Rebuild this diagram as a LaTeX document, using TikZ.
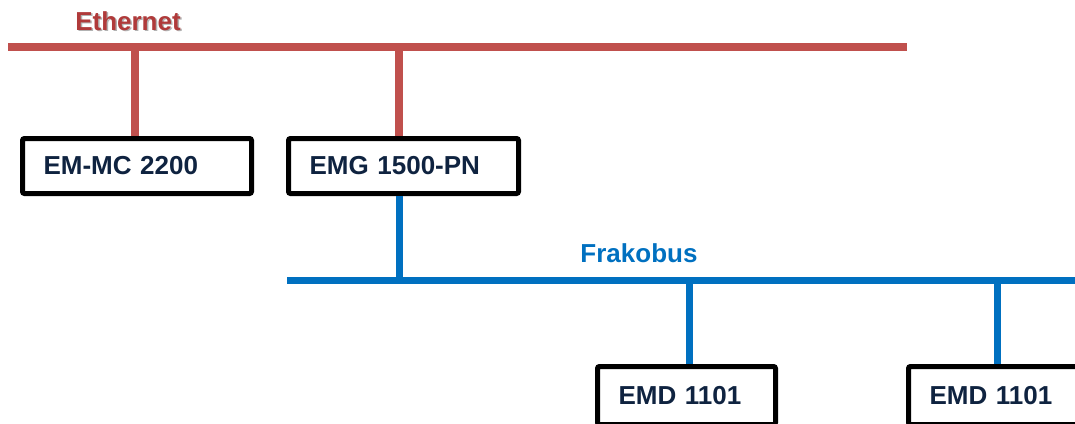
\documentclass[tikz,border=0pt]{standalone}
\usepackage{fontspec}
\setmainfont{Liberation Sans}
\definecolor{ethred}{HTML}{C0504D}
\definecolor{ethtext}{HTML}{B03A3A}
\definecolor{frakblue}{HTML}{0070C0}
\definecolor{navy}{HTML}{0F2340}
\begin{document}
\begin{tikzpicture}[x=1pt,y=-1pt,
  devbox/.style={draw=black, line width=5pt, rounded corners=2pt, anchor=north west,
    align=left, font=\fontsize{26}{30}\selectfont\bfseries, text=navy, inner ysep=0pt, fill=white},
  ethline/.style={draw=ethred, line width=7.3pt},
  frkline/.style={draw=frakblue, line width=7pt},
  buslabel/.style={font=\fontsize{26}{30}\selectfont\bfseries, inner sep=0pt, anchor=base}]
\useasboundingbox (0,0) rectangle (1075,423);
\clip (0,0) rectangle (1075,423);
% Ethernet bus
\coordinate (eL) at (8,47);
\coordinate (eR) at (907,47);
\coordinate (e1) at (135,47);
\coordinate (e2) at (399,47);
\draw[ethline] (eL) -- (eR);
\node[buslabel, text=black!60, opacity=0.5] at (129.5,31.5) {Ethernet};
\node[buslabel, text=ethtext] (ethlbl) at (128,30) {Ethernet};
% Frakobus
\coordinate (fL) at (287,280);
\coordinate (fR) at (1080,280);
\coordinate (f0) at (399,280);
\coordinate (f1) at (689,280);
\coordinate (f2) at (997,280);
\draw[frkline] (fL) -- (fR);
\node[buslabel, text=frakblue] (frklbl) at (639,262) {Frakobus};
% devices
\node[devbox, minimum width=229pt, minimum height=55pt, text width=187pt, inner xsep=21pt] (b1) at (20,136) {EM-MC 2200};
\node[devbox, minimum width=230pt, minimum height=55pt, text width=188pt, inner xsep=21pt] (b2) at (286,136) {EMG 1500-PN};
\node[devbox, minimum width=178pt, minimum height=58pt, text width=136pt, inner xsep=21pt] (b3) at (595,364) {EMD 1101};
\node[devbox, minimum width=178pt, minimum height=58pt, text width=136pt, inner xsep=21pt] (b4) at (906,364) {EMD 1101};
% connectors
\draw[ethline] (e1) -- (e1 |- b1.north);
\draw[ethline] (e2) -- (e2 |- b2.north);
\draw[frkline] (f0 |- b2.south) -- (f0);
\draw[frkline] (f1) -- (f1 |- b3.north);
\draw[frkline] (f2) -- (f2 |- b4.north);
\end{tikzpicture}
\end{document}
